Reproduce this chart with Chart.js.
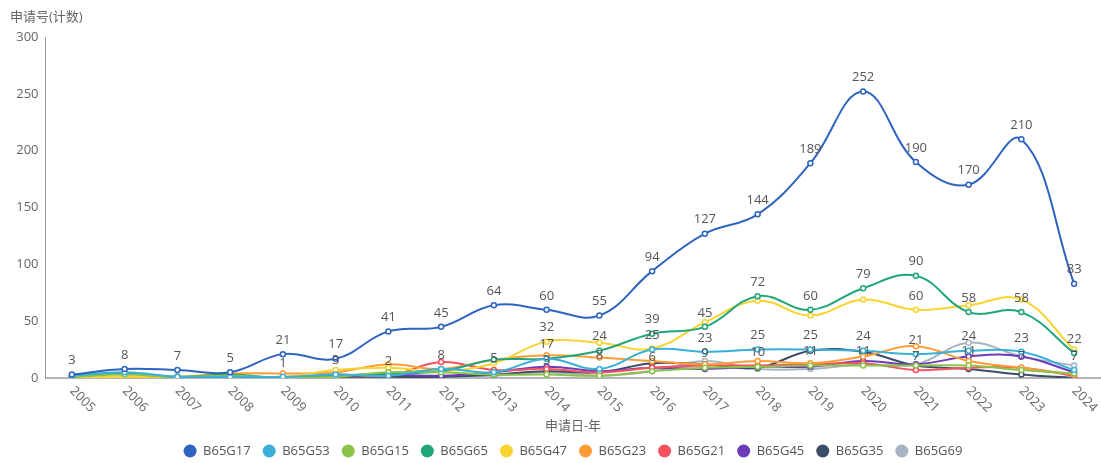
<!DOCTYPE html>
<html>
<head>
<meta charset="utf-8">
<script src="https://cdn.jsdelivr.net/npm/chart.js@4/dist/chart.umd.min.js"></script>
<style>
  html, body { margin: 0; padding: 0; background: #fff; overflow: hidden; }
  #wrap { width: 1101px; height: 463px; overflow: hidden; }
</style>
</head>
<body>
<div id="wrap"><canvas id="lineChart" width="1106" height="463"></canvas></div>
<script>
    // anos (eixo x)
    const years = ['2005', '2006', '2007', '2008', '2009', '2010', '2011', '2012', '2013', '2014',
        '2015', '2016', '2017', '2018', '2019', '2020', '2021', '2022', '2023', '2024'];

    // séries
    const b65g17 = [3, 8, 7, 5, 21, 17, 41, 45, 64, 60, 55, 94, 127, 144, 189, 252, 190, 170, 210, 83];
    const b65g53 = [2, 5, 1, 1, 1, 3, 2, 8, 5, 17, 8, 25, 23, 25, 25, 24, 21, 24, 23, 7];
    const b65g15 = [1, 3, 1, 2, 0, 1, 5, 5, 3, 3, 2, 6, 9, 10, 11, 11, 11, 11, 7, 4];
    const b65g65 = [1, 4, 1, 3, 0, 2, 4, 6, 16, 17, 24, 39, 45, 72, 60, 79, 90, 58, 58, 22];
    const b65g47 = [0, 1, 1, 1, 1, 7, 9, 6, 13, 32, 31, 26, 49, 68, 55, 69, 60, 64, 69, 25];
    const b65g23 = [0, 1, 1, 4, 4, 5, 12, 8, 16, 20, 18, 15, 12, 15, 13, 19, 28, 15, 9, 3];
    const b65g21 = [0, 0, 0, 0, 0, 3, 2, 14, 7, 8, 5, 9, 11, 11, 12, 13, 7, 9, 9, 2];
    const b65g45 = [0, 0, 0, 0, 0, 2, 3, 2, 5, 10, 6, 9, 8, 10, 10, 15, 12, 19, 19, 5];
    const b65g35 = [0, 0, 0, 0, 0, 1, 1, 1, 3, 6, 5, 13, 12, 9, 24, 23, 11, 8, 3, 0];
    const b65g69 = [0, 0, 0, 0, 0, 1, 1, 1, 2, 5, 2, 6, 15, 8, 8, 12, 12, 31, 19, 11];

    const seriesNames = ['B65G17', 'B65G53', 'B65G15', 'B65G65', 'B65G47', 'B65G23', 'B65G21', 'B65G45', 'B65G35', 'B65G69'];
    const seriesData = [b65g17, b65g53, b65g15, b65g65, b65g47, b65g23, b65g21, b65g45, b65g35, b65g69];

    const paleta = ['#2e64bf', '#38b0d8', '#8bc34a', '#20a67a', '#f9d330', '#ff9c37', '#f5525d', '#6b3bb8', '#3c4d6a', '#a6b5c1'];
    const fonte = '"Open Sans", "Noto Sans CJK SC", sans-serif';

    Chart.defaults.font.family = fonte;
    Chart.defaults.font.size = 13;
    Chart.defaults.color = '#666';

    // rótulos de valor, escondendo os que se sobrepõem
    const rotulos = {
        id: 'rotulos',
        afterDatasetsDraw(chart) {
            const ctx = chart.ctx;
            ctx.save();
            ctx.font = '13px ' + fonte;
            ctx.fillStyle = '#555';
            ctx.textAlign = 'center';
            ctx.textBaseline = 'middle';
            const usados = [];
            chart.data.datasets.forEach((ds, i) => {
                const meta = chart.getDatasetMeta(i);
                if (meta.hidden) return;
                meta.data.forEach((pt, j) => {
                    const txt = String(ds.data[j]);
                    const w = ctx.measureText(txt).width;
                    const cy = pt.y - 14;
                    const caixa = { x1: pt.x - w / 2, x2: pt.x + w / 2, y1: cy - 7, y2: cy + 7 };
                    const bate = usados.some(b => b.x1 < caixa.x2 && caixa.x1 < b.x2 && b.y1 < caixa.y2 && caixa.y1 < b.y2);
                    if (bate) return;
                    usados.push(caixa);
                    ctx.fillText(txt, pt.x, cy);
                });
            });
            ctx.restore();
        }
    };

    // anos girados 45° para baixo
    const anosGirados = {
        id: 'anosGirados',
        afterDraw(chart) {
            const sx = chart.scales.x;
            const ctx = chart.ctx;
            ctx.save();
            ctx.font = '13px ' + fonte;
            ctx.fillStyle = '#666';
            ctx.textAlign = 'left';
            ctx.textBaseline = 'middle';
            years.forEach((ano, i) => {
                ctx.save();
                ctx.translate(sx.getPixelForTick(i), sx.top + 11);
                ctx.rotate(Math.PI / 4);
                ctx.fillText(ano, 0, 0);
                ctx.restore();
            });
            ctx.restore();
        }
    };

    const datasets = seriesNames.map((nome, i) => ({
        label: nome,
        data: seriesData[i],
        borderColor: paleta[i],
        backgroundColor: paleta[i],
        pointBackgroundColor: '#fff',
        pointBorderColor: paleta[i],
        pointRadius: 2.5,
        pointBorderWidth: 1.5,
        borderWidth: 2,
        tension: 0.4,
        fill: false
    }));

    new Chart(document.getElementById('lineChart'), {
        type: 'line',
        data: { labels: years, datasets: datasets },
        options: {
            responsive: false,
            animation: false,
            layout: { padding: { left: 10, right: 1.5, top: 0, bottom: -4.5 } },
            plugins: {
                title: {
                    display: true,
                    text: '申请号(计数)',
                    align: 'start',
                    color: '#666',
                    font: { size: 13, weight: 'normal' },
                    padding: { top: 9, bottom: 12.4 }
                },
                legend: {
                    position: 'bottom',
                    fullSize: false,
                    labels: {
                        usePointStyle: true,
                        pointStyle: 'circle',
                        boxWidth: 13,
                        boxHeight: 9.2,
                        padding: 12,
                        color: '#555',
                        font: { size: 13 },
                        generateLabels(chart) {
                            const itens = Chart.defaults.plugins.legend.labels.generateLabels(chart);
                            itens.forEach(it => {
                                it.fillStyle = it.strokeStyle;
                                it.lineWidth = 0;
                                it.pointStyle = 'circle';
                            });
                            return itens;
                        }
                    }
                },
                tooltip: { enabled: false }
            },
            scales: {
                x: {
                    offset: true,
                    grid: { display: false, drawTicks: false },
                    border: { display: true, color: '#b5b5b5', width: 2 },
                    ticks: { display: false },
                    title: {
                        display: true,
                        text: '申请日-年',
                        color: '#666',
                        font: { size: 13 },
                        padding: { top: 0, bottom: -1.3 }
                    },
                    afterFit(s) { s.height = 54.5; }
                },
                y: {
                    min: 0,
                    max: 300,
                    grid: { display: false, drawTicks: false },
                    border: { display: true, color: '#999', width: 1 },
                    ticks: { stepSize: 50, padding: 7, color: '#666', font: { size: 13 } },
                    afterFit(s) { s.width = 35.5; }
                }
            }
        },
        plugins: [rotulos, anosGirados]
    });
</script>
</body>
</html>
